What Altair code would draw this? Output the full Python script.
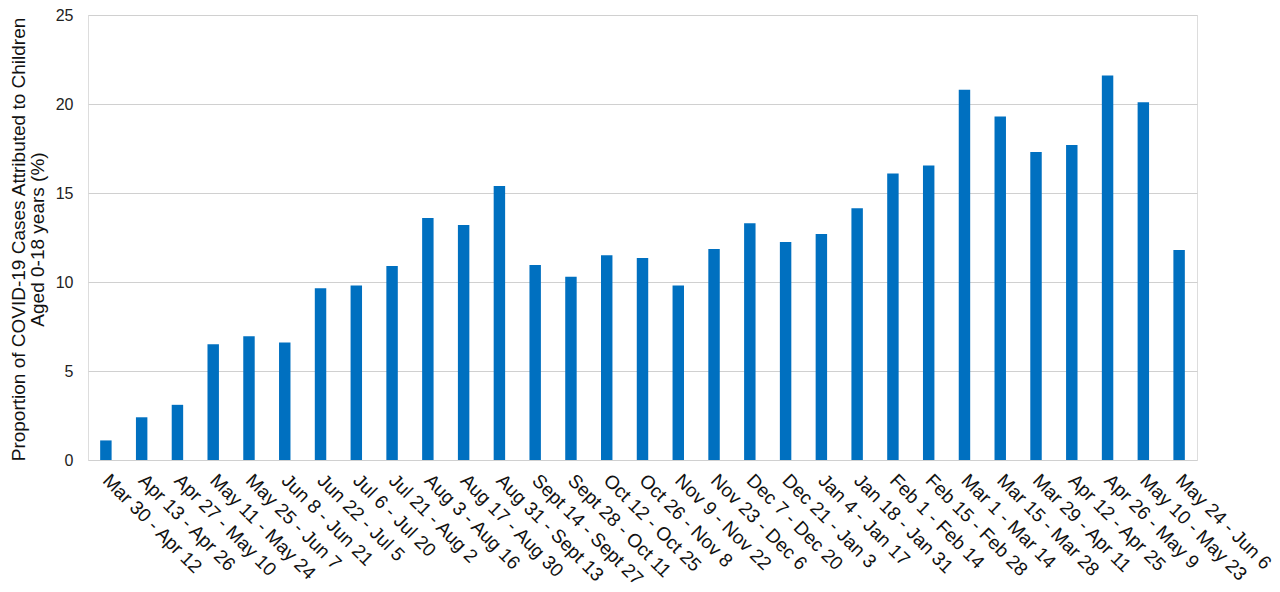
import altair as alt
import pandas as pd

periods = [
    "Mar 30 - Apr 12", "Apr 13 - Apr 26", "Apr 27 - May 10", "May 11 - May 24",
    "May 25 - Jun 7", "Jun 8 - Jun 21", "Jun 22 - Jul 5", "Jul 6 - Jul 20",
    "Jul 21 - Aug 2", "Aug 3 - Aug 16", "Aug 17 - Aug 30", "Aug 31 - Sept 13",
    "Sept 14 - Sept 27", "Sept 28 - Oct 11", "Oct 12 - Oct 25", "Oct 26 - Nov 8",
    "Nov 9 - Nov 22", "Nov 23 - Dec 6", "Dec 7 - Dec 20", "Dec 21 - Jan 3",
    "Jan 4 - Jan 17", "Jan 18 - Jan 31", "Feb 1 - Feb 14", "Feb 15 - Feb 28",
    "Mar 1 - Mar 14", "Mar 15 - Mar 28", "Mar 29 - Apr 11", "Apr 12 - Apr 25",
    "Apr 26 - May 9", "May 10 - May 23", "May 24 - Jun 6",
]
proportions = [
    1.1, 2.4, 3.1, 6.5, 6.95, 6.6, 9.65, 9.8, 10.9, 13.6, 13.2, 15.4,
    10.95, 10.3, 11.5, 11.35, 9.8, 11.85, 13.3, 12.25, 12.7, 14.15,
    16.1, 16.55, 20.8, 19.3, 17.3, 17.7, 21.6, 20.1, 11.8,
]
y_ticks = [0, 5, 10, 15, 20, 25]

df = pd.DataFrame({"period": periods, "value": proportions})

FONT = "Liberation Sans"

chart = (
    alt.Chart(df)
    .mark_bar(color="#0070C0")
    .encode(
        x=alt.X(
            "period:N",
            sort=periods,
            title=None,
            scale=alt.Scale(paddingInner=0.68, paddingOuter=0.34),
            axis=alt.Axis(
                labelAngle=45,
                labelAlign="left",
                labelBaseline="middle",
                labelFontSize=19,
                labelColor="#111111",
                labelFont=FONT,
                labelPadding=17,
                ticks=False,
                domain=False,
                labelOverlap=False,
            ),
        ),
        y=alt.Y(
            "value:Q",
            scale=alt.Scale(domain=[0, 25]),
            title=["Proportion of COVID-19 Cases Attributed to Children", "Aged 0-18 years (%)"],
            axis=alt.Axis(
                values=y_ticks,
                ticks=False,
                domain=False,
                labelFontSize=16,
                labelColor="#222222",
                labelFont=FONT,
                labelPadding=15,
                titleFont=FONT,
                titleFontSize=19,
                titleFontWeight="normal",
                titleColor="#111111",
                titleAngle=-90,
                titleAlign="center",
                titleBaseline="top",
                titleLineHeight=19,
                titleX=-79,
                titleY=224,
                gridColor="#d0d0d0",
                gridWidth=1.2,
            ),
        ),
    )
    .properties(
        width=1109,
        height=445,
        autosize=alt.AutoSizeParams(type="none"),
        padding={"left": 80, "top": 7, "right": 75, "bottom": 125},
    )
    .configure_view(stroke=None)
    .configure(background="white")
)

chart.save("out.html", embed_options={"renderer": "svg", "actions": False})
